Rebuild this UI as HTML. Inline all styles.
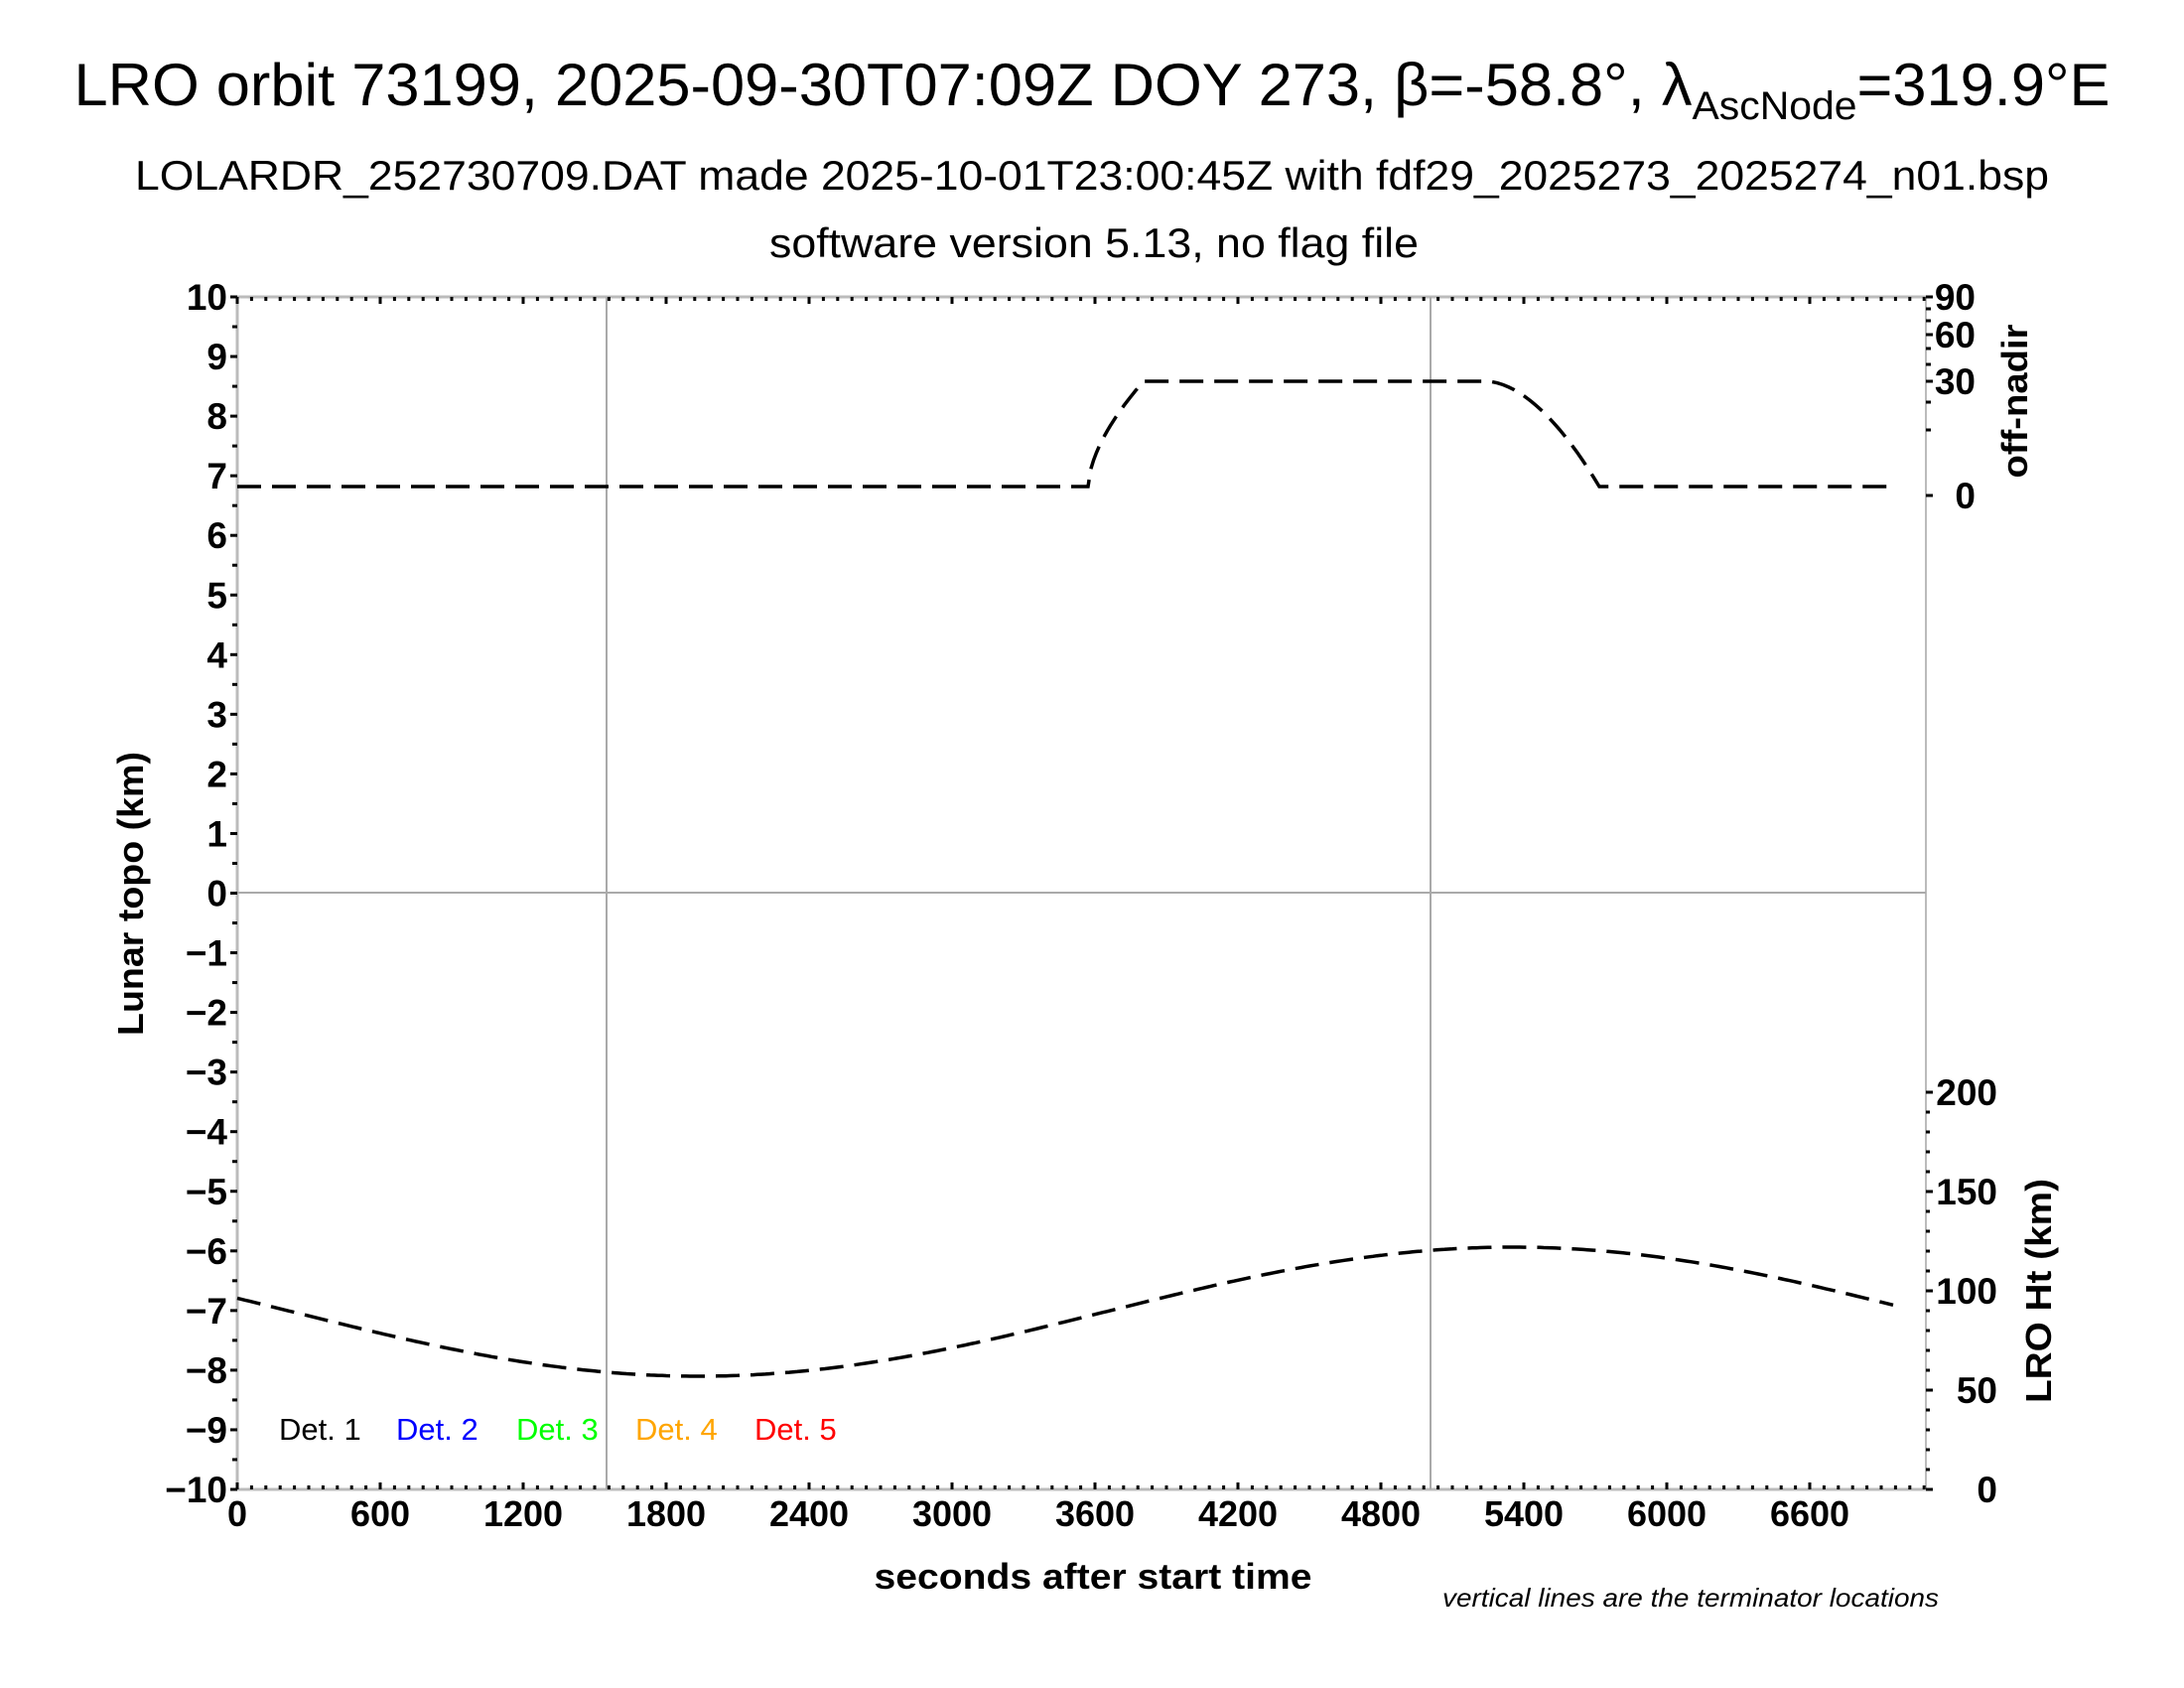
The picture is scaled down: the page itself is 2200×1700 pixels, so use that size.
<!DOCTYPE html>
<html><head><meta charset="utf-8"><style>
html,body{margin:0;padding:0;background:#fff;}
svg{display:block;}
text{font-family:"Liberation Sans",Arial,sans-serif;fill:#000;}
.b{font-weight:bold;}
</style></head><body>
<svg id="s" width="2200" height="1700" viewBox="0 0 2200 1700" xmlns="http://www.w3.org/2000/svg">
<rect width="2200" height="1700" fill="#fff"/>
<text x="1100" y="106" font-size="60" text-anchor="middle" textLength="2051" lengthAdjust="spacingAndGlyphs">LRO orbit 73199, 2025-09-30T07:09Z DOY 273, β=-58.8°, λ<tspan font-size="40" dy="14">AscNode</tspan><tspan dy="-14">=319.9°E</tspan></text>
<text x="1100" y="191" font-size="42" text-anchor="middle" textLength="1928" lengthAdjust="spacingAndGlyphs">LOLARDR_252730709.DAT made 2025-10-01T23:00:45Z with fdf29_2025273_2025274_n01.bsp</text>
<text x="1102" y="259" font-size="42" text-anchor="middle" textLength="654" lengthAdjust="spacingAndGlyphs">software version 5.13, no flag file</text>
<g id="axes"></g>
<text x="1101" y="1600" font-size="36" class="b" text-anchor="middle" textLength="441" lengthAdjust="spacingAndGlyphs">seconds after start time</text>
<text transform="translate(144,900) rotate(-90)" font-size="36" class="b" text-anchor="middle" textLength="286" lengthAdjust="spacingAndGlyphs">Lunar topo (km)</text>
<text transform="translate(2042,404) rotate(-90)" font-size="36" class="b" text-anchor="middle" textLength="155" lengthAdjust="spacingAndGlyphs">off-nadir</text>
<text transform="translate(2066,1300) rotate(-90)" font-size="36" class="b" text-anchor="middle" textLength="226" lengthAdjust="spacingAndGlyphs">LRO Ht (km)</text>
<text x="1453" y="1618" font-size="26" font-style="italic" textLength="500" lengthAdjust="spacingAndGlyphs">vertical lines are the terminator locations</text>
<g font-size="31">
<text x="281" y="1450" fill="#000">Det. 1</text>
<text x="399" y="1450" style="fill:#0000ff">Det. 2</text>
<text x="520" y="1450" style="fill:#00ff00">Det. 3</text>
<text x="640" y="1450" style="fill:#ffa500">Det. 4</text>
<text x="760" y="1450" style="fill:#ff0000">Det. 5</text>
</g>
</svg>
<script>
(function(){
var g=document.getElementById('axes');var h='';
var L=239,R=1940,T=299,B=1500;
function ln(x1,y1,x2,y2,c,w){h+='<line x1="'+x1+'" y1="'+y1+'" x2="'+x2+'" y2="'+y2+'" stroke="'+c+'" stroke-width="'+w+'"/>';}
ln(L,T,R,T,'#bbb',3);ln(L,B,R,B,'#bbb',3);ln(L,T,L,B,'#bbb',3);ln(R,T,R,B,'#bbb',2);
ln(L,899,R,899,'#aaa',2);
ln(611,T,611,B,'#aaa',2);ln(1441,T,1441,B,'#aaa',2);
var sx=0.24;
for(var s=0;s<=7080;s+=60){var x=L+s*sx;var big=(s%600==0);ln(x,B,x,B-(big?7:4),'#000',3);ln(x,T,x,T+(big?7:4),'#000',3);}
for(var s=0;s<=6600;s+=600){h+='<text x="'+(L+s*sx)+'" y="1537" font-size="36" font-weight="bold" text-anchor="middle">'+s+'</text>';}
for(var v=-10;v<=10;v++){var y=T+(10-v)*60.05;ln(L-7,y,L,y,'#000',3);
h+='<text x="229" y="'+(y+13)+'" font-size="37" font-weight="bold" text-anchor="end">'+(v<0?'\u2212'+(-v):v)+'</text>';}
for(var v=-9.5;v<10;v+=1){var y=T+(10-v)*60.05;ln(L-5,y,L,y,'#000',3);}
[[90,299],[60,337],[30,384],[0,499]].forEach(function(a){ln(R,a[1],R+7,a[1],'#000',3);h+='<text x="1990" y="'+(a[1]+13)+'" font-size="37" font-weight="bold" text-anchor="end">'+a[0]+'</text>';});
[311,323,351,367,405,433].forEach(function(y){ln(R,y,R+5,y,'#000',3);});
for(var k=0;k<=200;k+=10){var y=B-k*2;ln(R,y,R+(k%50==0?7:4),y,'#000',3);}
for(var k=0;k<=200;k+=50){h+='<text x="2012" y="'+(B-k*2+13)+'" font-size="37" font-weight="bold" text-anchor="end">'+k+'</text>';}
var p='';for(var x=239;x<=1910;x+=4){var km=89.5-32.5*Math.cos(Math.PI*(x-704)/820);p+=(p?'L':'M')+x+','+(B-km*2).toFixed(1);}
h+='<path d="'+p+'" fill="none" stroke="#000" stroke-width="3.5" stroke-dasharray="24,11"/>';
var q='M239,490 L1096,490';
for(var i=0;i<=20;i++){var t=i/20;var x=1096+56*t;var y=490-106*Math.pow(t,0.6);q+=' L'+x.toFixed(1)+','+y.toFixed(1);}
q+=' L1497,384';
for(var i=0;i<=20;i++){var t=i/20;var x=1497+114*t;var y=384+106*Math.pow(t,1.8);q+=' L'+x.toFixed(1)+','+y.toFixed(1);}
q+=' L1911,490';
h+='<path d="'+q+'" fill="none" stroke="#000" stroke-width="3.5" stroke-dasharray="24,11"/>';
g.innerHTML=h;
})();
</script>
</body></html>
